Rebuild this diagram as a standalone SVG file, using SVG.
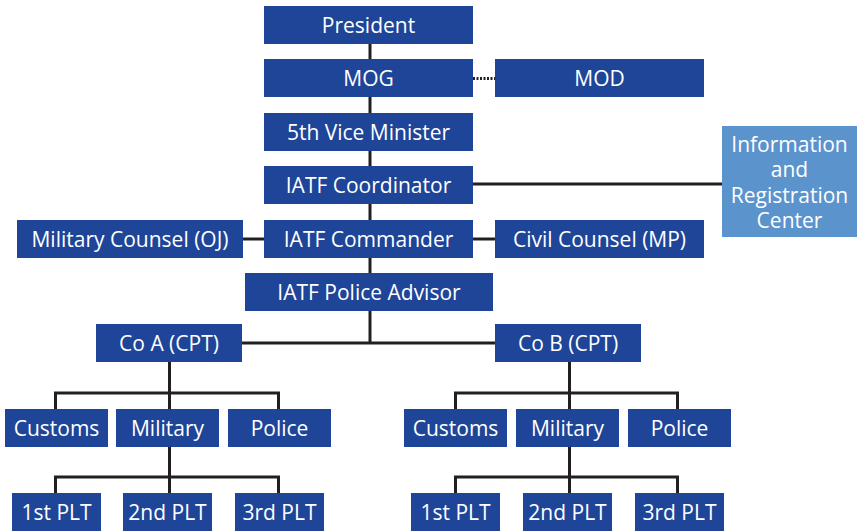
<svg xmlns="http://www.w3.org/2000/svg" width="857" height="532" viewBox="0 0 857 532">
<style>
.b{fill:#1e4598}
.lb{fill:#5b93cd}
text{font-family:"Open Sans","Liberation Sans",sans-serif;font-size:21px;fill:#fff;text-anchor:middle}
.c{stroke:#231f20;stroke-width:3;fill:none}
.d{stroke:#231f20;stroke-width:3;fill:none;stroke-dasharray:2 1.5}
</style>
<g id="connectors">
<line class="c" x1="370" y1="44" x2="370" y2="273"/>
<line class="d" x1="473" y1="78.5" x2="495" y2="78.5"/>
<line class="c" x1="473" y1="184" x2="722" y2="184"/>
<line class="c" x1="243" y1="239" x2="264" y2="239"/>
<line class="c" x1="473" y1="239" x2="495" y2="239"/>
<line class="c" x1="370" y1="311" x2="370" y2="343"/>
<line class="c" x1="242" y1="343" x2="495" y2="343"/>
<path class="c" d="M169.5 362V409M55.5 409V393H278.5V409"/>
<path class="c" d="M169.5 447V493M55.5 493V477H278.5V493"/>
<path class="c" d="M569.5 362V409M455.5 409V393H677.5V409"/>
<path class="c" d="M569.5 447V493M455.5 493V477H677.5V493"/>
</g>
<g id="president"><rect class="b" x="264" y="6" width="209" height="38"/><text x="368.5" y="33">President</text></g>
<g id="mog"><rect class="b" x="264" y="59" width="209" height="38"/><text x="368.5" y="86">MOG</text></g>
<g id="mod"><rect class="b" x="495" y="59" width="209" height="38"/><text x="599.5" y="86">MOD</text></g>
<g id="vice"><rect class="b" x="264" y="113" width="209" height="38"/><text x="368.5" y="140">5th Vice Minister</text></g>
<g id="coordinator"><rect class="b" x="264" y="166" width="209" height="38"/><text x="368.5" y="193">IATF Coordinator</text></g>
<g id="info"><rect class="lb" x="722" y="126" width="135" height="111"/>
<text x="789.5" y="151.5">Information</text><text x="789.5" y="177">and</text><text x="789.5" y="202.5">Registration</text><text x="789.5" y="228">Center</text></g>
<g id="commander"><rect class="b" x="264" y="220" width="209" height="38"/><text x="368.5" y="247">IATF Commander</text></g>
<g id="milcounsel"><rect class="b" x="17" y="220" width="226" height="38"/><text x="130" y="247">Military Counsel (OJ)</text></g>
<g id="civcounsel"><rect class="b" x="495" y="220" width="209" height="38"/><text x="599.5" y="247">Civil Counsel (MP)</text></g>
<g id="advisor"><rect class="b" x="245" y="273" width="248" height="38"/><text x="369" y="300">IATF Police Advisor</text></g>
<g id="coa"><rect class="b" x="96" y="324" width="146" height="38"/><text x="169" y="351">Co A (CPT)</text></g>
<g id="cob"><rect class="b" x="495" y="324" width="146" height="38"/><text x="568" y="351">Co B (CPT)</text></g>
<g id="a-customs"><rect class="b" x="5" y="409" width="103" height="38"/><text x="56.5" y="436">Customs</text></g>
<g id="a-military"><rect class="b" x="116" y="409" width="103" height="38"/><text x="167.5" y="436">Military</text></g>
<g id="a-police"><rect class="b" x="228" y="409" width="103" height="38"/><text x="279.5" y="436">Police</text></g>
<g id="b-customs"><rect class="b" x="404" y="409" width="103" height="38"/><text x="455.5" y="436">Customs</text></g>
<g id="b-military"><rect class="b" x="516" y="409" width="103" height="38"/><text x="567.5" y="436">Military</text></g>
<g id="b-police"><rect class="b" x="628" y="409" width="103" height="38"/><text x="679.5" y="436">Police</text></g>
<g id="a-plt1"><rect class="b" x="12" y="493" width="89" height="38"/><text x="56.5" y="520">1st PLT</text></g>
<g id="a-plt2"><rect class="b" x="123" y="493" width="89" height="38"/><text x="167.5" y="520">2nd PLT</text></g>
<g id="a-plt3"><rect class="b" x="235" y="493" width="89" height="38"/><text x="279.5" y="520">3rd PLT</text></g>
<g id="b-plt1"><rect class="b" x="411" y="493" width="89" height="38"/><text x="455.5" y="520">1st PLT</text></g>
<g id="b-plt2"><rect class="b" x="523" y="493" width="89" height="38"/><text x="567.5" y="520">2nd PLT</text></g>
<g id="b-plt3"><rect class="b" x="635" y="493" width="89" height="38"/><text x="679.5" y="520">3rd PLT</text></g>
</svg>
